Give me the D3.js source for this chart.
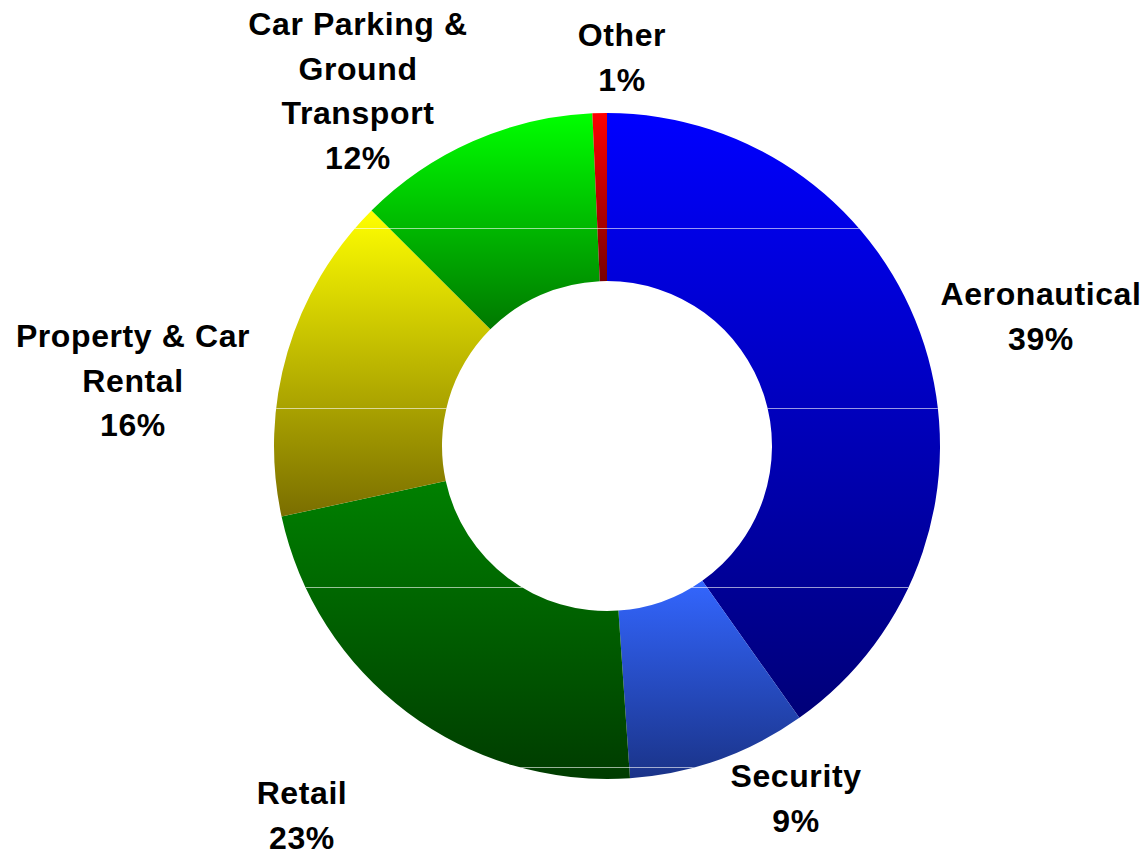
<!DOCTYPE html>
<html>
<head>
<meta charset="utf-8">
<script src="https://cdn.jsdelivr.net/npm/d3@7"></script>
<style>
  body { margin: 0; background: #fff; }
  text { font-family: "Liberation Sans", Arial, sans-serif; font-weight: bold; }
</style>
</head>
<body>
<div id="chart"></div>
<script>
// revenue share by source
var categories = ["Aeronautical", "Security", "Retail", "Property & Car Rental", "Car Parking & Ground Transport", "Other"];
var values = [40.2, 8.7, 22.7, 15.9, 11.8, 0.7];
var pctLabels = ["39%", "9%", "23%", "16%", "12%", "1%"];
var labelLines = [["Aeronautical"], ["Security"], ["Retail"], ["Property & Car", "Rental"], ["Car Parking &", "Ground", "Transport"], ["Other"]];
var topColors = ["#0000FF", "#3366FF", "#008000", "#FFFF00", "#00FF00", "#FF0000"];
var bottomColors = ["#000078", "#1A3388", "#003C00", "#7A6E00", "#007800", "#780000"];

// label anchor (centre x, first baseline y)
var labelPos = [[1041, 305], [796, 787], [302, 804], [133, 347], [358, 35], [622, 46]];
var lineH = 44.5;

var width = 1144, height = 855;
var cx = 607, cy = 446, outerR = 333, innerR = 165;

var svg = d3.select("#chart")
    .append("svg")
    .attr("width", width)
    .attr("height", height);

var defs = svg.append("defs");
categories.forEach(function(c, i) {
    var g = defs.append("linearGradient")
        .attr("id", "grad" + i)
        .attr("x1", 0).attr("y1", 0)
        .attr("x2", 0).attr("y2", 1);
    g.append("stop").attr("offset", "0%").attr("stop-color", topColors[i]);
    g.append("stop").attr("offset", "100%").attr("stop-color", bottomColors[i]);
});

var pie = d3.pie().sort(null).value(function(d) { return d; });
var arc = d3.arc().innerRadius(innerR).outerRadius(outerR);

var g = svg.append("g")
    .attr("transform", "translate(" + cx + "," + cy + ")");

g.selectAll("path.slice")
    .data(pie(values))
    .enter().append("path")
    .attr("class", "slice")
    .attr("d", arc)
    .attr("fill", function(d, i) { return "url(#grad" + i + ")"; });

// faint horizontal seams seen in the original rendering
defs.append("clipPath").attr("id", "donutClip")
    .append("path")
    .attr("d", d3.arc().innerRadius(innerR).outerRadius(outerR)({startAngle: 0, endAngle: 2 * Math.PI}))
    .attr("transform", "translate(" + cx + "," + cy + ")");
var seams = [228, 408, 587, 767];
svg.append("g").attr("clip-path", "url(#donutClip)")
    .selectAll("line")
    .data(seams)
    .enter().append("line")
    .attr("x1", cx - outerR).attr("x2", cx + outerR)
    .attr("y1", function(d) { return d + 0.5; })
    .attr("y2", function(d) { return d + 0.5; })
    .attr("stroke", "#fff")
    .attr("stroke-opacity", 0.6)
    .attr("stroke-width", 1);

// labels
var labels = svg.append("g");
categories.forEach(function(c, i) {
    var lines = labelLines[i].concat([pctLabels[i]]);
    var t = labels.append("text")
        .attr("text-anchor", "middle")
        .attr("font-size", 32)
        .attr("letter-spacing", 0.6)
        .attr("fill", "#000");
    lines.forEach(function(l, j) {
        t.append("tspan")
            .attr("x", labelPos[i][0])
            .attr("y", labelPos[i][1] + j * lineH)
            .text(l);
    });
});
</script>
</body>
</html>
